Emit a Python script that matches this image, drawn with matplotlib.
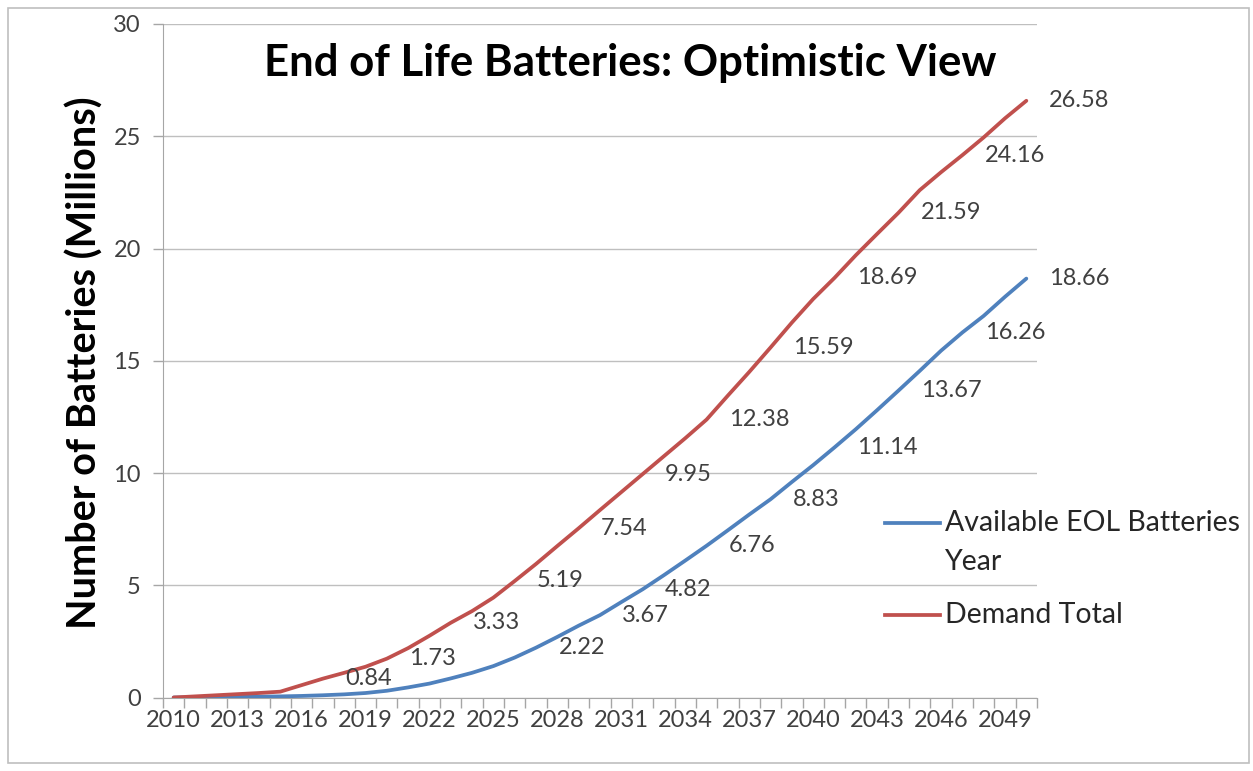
import matplotlib.pyplot as plt
from matplotlib.lines import Line2D
from matplotlib.patches import Rectangle

plt.rcParams['font.family'] = ['Lato', 'DejaVu Sans']

years = list(range(2010, 2051))

# millions of batteries
available_eol = [0.0, 0.01, 0.02, 0.03, 0.04, 0.05, 0.07, 0.1, 0.14, 0.2,
                 0.3, 0.45, 0.62, 0.85, 1.1, 1.4, 1.78, 2.22, 2.7, 3.2,
                 3.67, 4.25, 4.82, 5.45, 6.1, 6.76, 7.45, 8.15, 8.83, 9.6,
                 10.35, 11.14, 11.95, 12.8, 13.67, 14.55, 15.45, 16.26, 17.0, 17.85,
                 18.66]
demand_total = [0.0, 0.05, 0.1, 0.15, 0.2, 0.26, 0.55, 0.84, 1.1, 1.37,
                1.73, 2.2, 2.75, 3.33, 3.85, 4.45, 5.19, 5.95, 6.75, 7.54,
                8.35, 9.15, 9.95, 10.75, 11.55, 12.38, 13.45, 14.5, 15.59, 16.7,
                17.75, 18.69, 19.7, 20.65, 21.59, 22.6, 23.4, 24.16, 24.95, 25.8,
                26.58]

demand_label_years = list(range(2017, 2051, 3))
available_label_years = [2027, 2030, 2032, 2035, 2038, 2041, 2044, 2047, 2050]

tick_years = list(range(2010, 2050, 3))

BLUE = '#4F81BD'
RED = '#C0504D'
GRID = '#A6A6A6'
TXT = '#404040'

fig = plt.figure(figsize=(12.53, 7.71), dpi=100)
ax = fig.add_axes([163 / 1253, 1 - 697.5 / 771, (1037 - 163) / 1253, (697.5 - 24) / 771])

ax.plot(years, available_eol, color=BLUE, lw=2.7, solid_capstyle='round', zorder=3)
ax.plot(years, demand_total, color=RED, lw=2.7, solid_capstyle='round', zorder=3)

gap = 1.05
for y in demand_label_years:
    v = demand_total[years.index(y)]
    ax.text(y + gap, v, f'{v:.2f}', ha='left', va='center', fontsize=17,
            color=TXT, zorder=4)
for y in available_label_years:
    v = available_eol[years.index(y)]
    ax.text(y + gap, v, f'{v:.2f}', ha='left', va='center', fontsize=17,
            color=TXT, zorder=4)

ax.set_xlim(2009.5, 2050.5)
ax.set_ylim(0, 30)
ax.set_yticks(range(0, 31, 5))
ax.set_xticks(tick_years)
ax.set_xticklabels([str(t) for t in tick_years])
ax.set_xticks([y - 0.5 for y in years] + [2050.5], minor=True)
ax.tick_params(axis='x', which='major', length=0, pad=9, labelsize=17, labelcolor=TXT)
ax.tick_params(axis='x', which='minor', length=7, width=1, color=GRID)
ax.tick_params(axis='y', length=7, width=1, color=GRID, pad=9, labelsize=17,
               labelcolor=TXT)

ax.grid(axis='y', color='#BFBFBF', lw=1)
ax.set_axisbelow(True)
for side in ['top', 'right']:
    ax.spines[side].set_visible(False)
ax.spines['left'].set_color(GRID)
ax.spines['bottom'].set_color(GRID)

fig.text(85 / 1253, 1 - 363 / 771, 'Number of Batteries (Millions)', rotation=90,
         ha='center', va='center', fontsize=28.5, fontweight='bold')
fig.text(630 / 1253, 1 - 63 / 771, 'End of Life Batteries: Optimistic View',
         ha='center', va='center', fontsize=31.5, fontweight='bold')

# legend drawn by hand so the blue key sits on the first text line
for ly, col in [(523, BLUE), (615, RED)]:
    fig.add_artist(Line2D([885 / 1253, 940 / 1253], [1 - ly / 771] * 2, color=col, lw=2.7))
for ly, txt in [(523, 'Available EOL Batteries'), (562, 'Year'), (615, 'Demand Total')]:
    fig.text(945 / 1253, 1 - ly / 771, txt, ha='left', va='center', fontsize=20.5,
             color='#262626')

fig.add_artist(Rectangle((8 / 1253, 8 / 771), 1241 / 1253, 755 / 771, fill=False,
                         edgecolor='#BFBFBF', lw=1.2, transform=fig.transFigure))

fig.savefig('out.png', dpi=100)
